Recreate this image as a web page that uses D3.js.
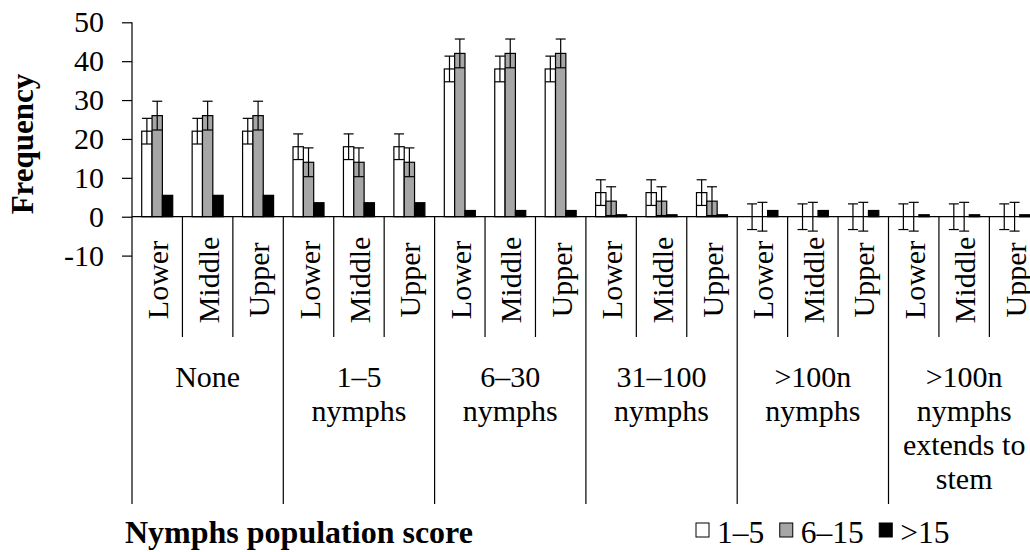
<!DOCTYPE html>
<html>
<head>
<meta charset="utf-8">
<script src="https://cdn.jsdelivr.net/npm/d3@7"></script>
<style>
  body { margin: 0; background: #fff; }
  svg text { font-family: "Liberation Serif", "Times New Roman", serif; fill: #000; }
</style>
</head>
<body>
<script>
// categories
const groups = ["None", "1–5 nymphs", "6–30 nymphs", "31–100 nymphs", ">100n nymphs", ">100n nymphs extends to stem"];
const groupLines = [["None"], ["1–5", "nymphs"], ["6–30", "nymphs"], ["31–100", "nymphs"], [">100n", "nymphs"], [">100n", "nymphs", "extends to", "stem"]];
const positions = ["Lower", "Middle", "Upper"];
const seriesNames = ["1–5", "6–15", ">15"];
const seriesColors = ["#ffffff", "#a6a6a6", "#000000"];

// series values, one per group x position (18)
const valLow = [22, 22, 22, 18, 18, 18, 38, 38, 38, 6.2, 6.2, 6.2, 0, 0, 0, 0, 0, 0];
const valMid = [26, 26, 26, 14, 14, 14, 42, 42, 42, 4, 4, 4, 0, 0, 0, 0, 0, 0];
const valHigh = [5.5, 5.5, 5.5, 3.6, 3.6, 3.6, 1.6, 1.6, 1.6, 0.5, 0.5, 0.5, 1.6, 1.6, 1.6, 0.5, 0.5, 0.5];
const errLow = [3.3, 3.3, 3.3, 3.3, 3.3, 3.3, 3.3, 3.3, 3.3, 3.3, 3.3, 3.3, 3.3, 3.3, 3.3, 3.3, 3.3, 3.3];
const errMid = [3.7, 3.7, 3.7, 3.7, 3.7, 3.7, 3.7, 3.7, 3.7, 3.7, 3.7, 3.7, 3.7, 3.7, 3.7, 3.7, 3.7, 3.7];
const errHigh = [0, 0, 0, 0, 0, 0, 0, 0, 0, 0, 0, 0, 0, 0, 0, 0, 0, 0];
const yTicks = [-10, 0, 10, 20, 30, 40, 50];

const W = 1030, H = 552;
const x0 = 132, groupW = 151.3;
const serif = "'Liberation Serif', 'Times New Roman', serif";

const svg = d3.select("body").append("svg")
  .attr("width", W).attr("height", H)
  .attr("font-family", serif);

// scales
const y = d3.scaleLinear().domain([-10, 50]).range([255.6, 22.3]);
const xGroup = d3.scaleBand().domain(groups).range([x0, x0 + groupW * groups.length]);
const subKeys = [];
groups.forEach(g => positions.forEach(p => subKeys.push(g + "|" + p)));
const xSub = d3.scaleBand().domain(subKeys).range([x0, x0 + groupW * groups.length]);
const xSeries = d3.scaleBand().domain(seriesNames).range([0, xSub.bandwidth()]).paddingOuter(0.94);

const series = seriesNames.map((s, i) => ({
  name: s, color: seriesColors[i],
  values: [valLow, valMid, valHigh][i],
  errs: [errLow, errMid, errHigh][i]
}));

// y axis (plain hyphen for negatives, as in the original)
const yAxis = d3.axisLeft(y).tickValues(yTicks).tickSize(10).tickPadding(18)
  .tickFormat(d => String(d));
const ya = svg.append("g").attr("transform", `translate(${x0},0)`).call(yAxis)
  .attr("font-family", serif);
ya.select(".domain").remove();
ya.selectAll("line").attr("stroke", "#000").attr("stroke-width", 1.2);
ya.selectAll("text").style("font-size", "30px").attr("fill", "#000")
  .style("font-family", serif);

// bars
const barG = svg.append("g");
series.forEach(s => {
  barG.selectAll(null).data(subKeys).enter().append("rect")
    .attr("x", (k) => xSub(k) + xSeries(s.name))
    .attr("width", xSeries.bandwidth())
    .attr("y", (k, i) => y(Math.max(0, s.values[i])))
    .attr("height", (k, i) => Math.abs(y(s.values[i]) - y(0)))
    .attr("fill", s.color)
    .attr("stroke", "#000").attr("stroke-width", 1.2);
});

// category axis line at zero
svg.append("line")
  .attr("x1", x0).attr("x2", W).attr("y1", y(0)).attr("y2", y(0))
  .attr("stroke", "#000").attr("stroke-width", 1.2);

// vertical value axis line (continues as first group divider)
svg.append("line")
  .attr("x1", x0).attr("x2", x0).attr("y1", y(50)).attr("y2", 504)
  .attr("stroke", "#000").attr("stroke-width", 1.2);

// error bars
const errG = svg.append("g").attr("stroke", "#000").attr("stroke-width", 1.2);
series.forEach(s => {
  subKeys.forEach((k, i) => {
    if (!s.errs[i]) return;
    const cx = xSub(k) + xSeries(s.name) + xSeries.bandwidth() / 2;
    const lo = y(s.values[i] - s.errs[i]), hi = y(s.values[i] + s.errs[i]);
    errG.append("line").attr("x1", cx).attr("x2", cx).attr("y1", lo).attr("y2", hi);
    errG.append("line").attr("x1", cx - 5).attr("x2", cx + 5).attr("y1", lo).attr("y2", lo);
    errG.append("line").attr("x1", cx - 5).attr("x2", cx + 5).attr("y1", hi).attr("y2", hi);
  });
});

// sub-category dividers and labels
subKeys.forEach((k, i) => {
  if (i % 3 !== 0) {
    svg.append("line")
      .attr("x1", xSub(k)).attr("x2", xSub(k)).attr("y1", y(0)).attr("y2", 337)
      .attr("stroke", "#000").attr("stroke-width", 1.2);
  }
  const cx = xSub(k) + xSub.bandwidth() / 2;
  svg.append("text")
    .attr("transform", `translate(${cx + 11},280) rotate(-90)`)
    .attr("text-anchor", "middle")
    .style("font-size", "30px")
    .text(k.split("|")[1]);
});

// group dividers and labels
groups.forEach((g, gi) => {
  if (gi > 0) {
    svg.append("line")
      .attr("x1", xGroup(g)).attr("x2", xGroup(g)).attr("y1", y(0)).attr("y2", 504)
      .attr("stroke", "#000").attr("stroke-width", 1.2);
  }
  const cx = xGroup(g) + xGroup.bandwidth() / 2;
  const t = svg.append("text").attr("text-anchor", "middle").style("font-size", "30px");
  groupLines[gi].forEach((ln, li) => {
    t.append("tspan").attr("x", cx).attr("y", 386.5 + li * 34).text(ln);
  });
});

// axis titles
svg.append("text")
  .attr("transform", "translate(33,144) rotate(-90)")
  .attr("text-anchor", "middle")
  .style("font-size", "31px").style("font-weight", "bold")
  .text("Frequency");

svg.append("text")
  .attr("x", 125).attr("y", 542.5)
  .style("font-size", "32px").style("font-weight", "bold")
  .text("Nymphs population score");

// legend
const leg = svg.append("g");
let lx = 696;
series.forEach(s => {
  leg.append("rect")
    .attr("x", lx).attr("y", 523).attr("width", 13).attr("height", 14)
    .attr("fill", s.color).attr("stroke", "#000").attr("stroke-width", 1);
  const t = leg.append("text")
    .attr("x", lx + 21).attr("y", 543)
    .style("font-size", "31.5px")
    .text(s.name);
  lx += 21 + t.node().getComputedTextLength() + 15.5;
});
</script>
</body>
</html>
